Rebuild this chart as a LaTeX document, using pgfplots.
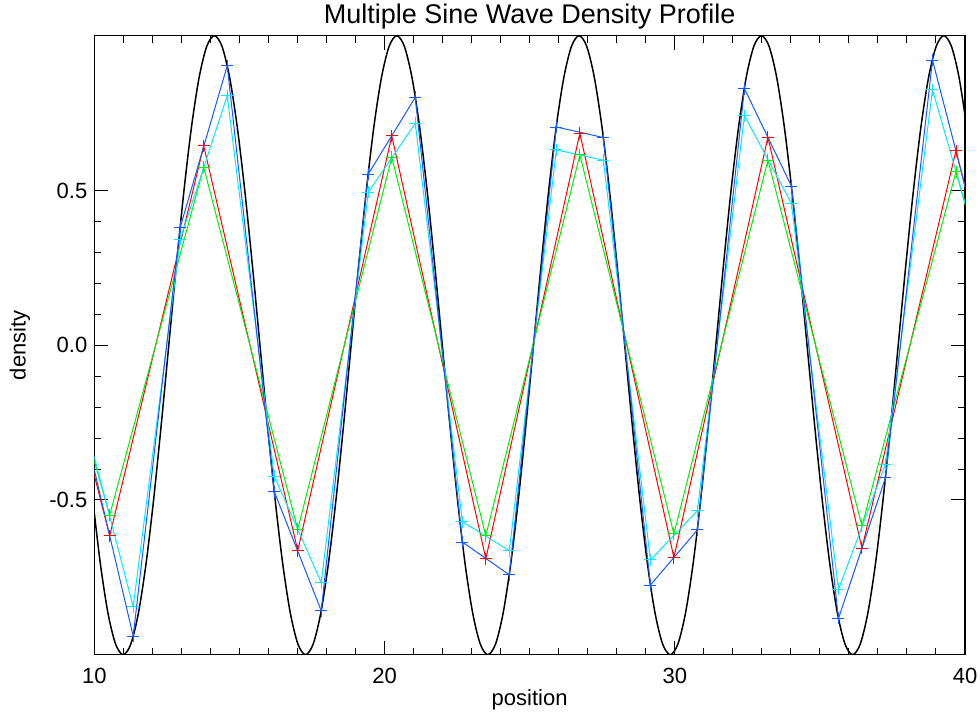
\documentclass[border=0pt]{standalone}
\usepackage{fontspec}
\setmainfont{Liberation Sans}
\usepackage{pgfplots}
\pgfplotsset{compat=1.18}
\definecolor{idlred}{RGB}{255,0,0}
\definecolor{idlgreen}{RGB}{0,240,0}
\definecolor{idlcyan}{RGB}{0,235,255}
\definecolor{idlblue}{RGB}{20,90,255}
\begin{document}
\begin{tikzpicture}
\path[use as bounding box] (0,0) rectangle (490pt,356.5pt);
\begin{axis}[
  at={(47.15pt,29.15pt)}, anchor=south west,
  scale only axis, width=435.35pt, height=309.5pt,
  xmin=10, xmax=40, ymin=-1, ymax=1,
  xtick={10,20,30,40}, ytick={-0.5,0,0.5},
  minor x tick num=9, minor y tick num=4,
  tick align=inside,
  major tick length=7pt, minor tick length=3.5pt,
  axis line style={black, line width=0.6pt},
  tick style={black, line width=0.5pt},
  /pgf/number format/assume math mode=true,
  yticklabel style={/pgf/number format/.cd, fixed, fixed zerofill, precision=1},
  tick label style={font=\fontsize{11}{13}\selectfont},
  xticklabel style={yshift=-3pt},
  title={Multiple Sine Wave Density Profile},
  title style={at={(axis description cs:0.5,1.0108)}, anchor=center, font=\fontsize{13.5}{16}\selectfont},
  xlabel={position}, ylabel={density},
  xlabel style={at={(axis description cs:0.5,-0.0732)}, anchor=center, font=\fontsize{11}{13}\selectfont},
  ylabel style={at={(axis description cs:-0.0853,0.5)}, anchor=center, font=\fontsize{11}{13}\selectfont},
  every axis plot/.append style={line width=0.5pt},
  mark size=3pt,
]
\addplot[black, line width=0.75pt, smooth, no markers] coordinates {
(9.9484,-0.5)(10.2102,-0.7071)(10.4720,-0.8660)(10.7338,-0.9659)(10.9956,-1)(11.2574,-0.9659)(11.5192,-0.8660)(11.7810,-0.7071)(12.0428,-0.5)(12.3046,-0.2588)
(12.5664,0)(12.8282,0.2588)(13.0900,0.5)(13.3518,0.7071)(13.6136,0.8660)(13.8754,0.9659)(14.1372,1)(14.3990,0.9659)(14.6608,0.8660)(14.9226,0.7071)(15.1844,0.5)(15.4462,0.2588)(15.7080,0)(15.9698,-0.2588)(16.2316,-0.5)(16.4934,-0.7071)(16.7552,-0.8660)(17.0170,-0.9659)(17.2788,-1)(17.5406,-0.9659)(17.8024,-0.8660)(18.0642,-0.7071)(18.3260,-0.5)(18.5878,-0.2588)
(18.8496,0)(19.1114,0.2588)(19.3732,0.5)(19.6350,0.7071)(19.8968,0.8660)(20.1586,0.9659)(20.4204,1)(20.6822,0.9659)(20.9440,0.8660)(21.2058,0.7071)(21.4675,0.5)(21.7293,0.2588)(21.9911,0)(22.2529,-0.2588)(22.5147,-0.5)(22.7765,-0.7071)(23.0383,-0.8660)(23.3001,-0.9659)(23.5619,-1)(23.8237,-0.9659)(24.0855,-0.8660)(24.3473,-0.7071)(24.6091,-0.5)(24.8709,-0.2588)
(25.1327,0)(25.3945,0.2588)(25.6563,0.5)(25.9181,0.7071)(26.1799,0.8660)(26.4417,0.9659)(26.7035,1)(26.9653,0.9659)(27.2271,0.8660)(27.4889,0.7071)(27.7507,0.5)(28.0125,0.2588)(28.2743,0)(28.5361,-0.2588)(28.7979,-0.5)(29.0597,-0.7071)(29.3215,-0.8660)(29.5833,-0.9659)(29.8451,-1)(30.1069,-0.9659)(30.3687,-0.8660)(30.6305,-0.7071)(30.8923,-0.5)(31.1541,-0.2588)
(31.4159,0)(31.6777,0.2588)(31.9395,0.5)(32.2013,0.7071)(32.4631,0.8660)(32.7249,0.9659)(32.9867,1)(33.2485,0.9659)(33.5103,0.8660)(33.7721,0.7071)(34.0339,0.5)(34.2957,0.2588)(34.5575,0)(34.8193,-0.2588)(35.0811,-0.5)(35.3429,-0.7071)(35.6047,-0.8660)(35.8665,-0.9659)(36.1283,-1)(36.3901,-0.9659)(36.6519,-0.8660)(36.9137,-0.7071)(37.1755,-0.5)(37.4373,-0.2588)
(37.6991,0)(37.9609,0.2588)(38.2227,0.5)(38.4845,0.7071)(38.7463,0.8660)(39.0081,0.9659)(39.2699,1)(39.5317,0.9659)(39.7935,0.8660)(40.0553,0.7071)
};
\addplot[idlred, mark=+, mark options={solid}] coordinates {
(7.29,0.583)(10.53,-0.616)(13.77,0.644)(17.01,-0.664)(20.25,0.676)(23.49,-0.690)(26.73,0.685)(29.97,-0.686)(33.21,0.672)(36.45,-0.656)(39.69,0.629)(42.93,-0.599)
};
\addplot[idlgreen, mark=+, mark options={solid}] coordinates {
(7.29,0.521)(10.53,-0.549)(13.77,0.575)(17.01,-0.595)(20.25,0.607)(23.49,-0.616)(26.73,0.615)(29.97,-0.610)(33.21,0.598)(36.45,-0.584)(39.69,0.561)(42.93,-0.535)
};
\addplot[idlcyan, mark=+, mark options={solid}] coordinates {
(9.72,-0.26)(11.34,-0.845)(12.96,0.342)(14.58,0.806)(16.20,-0.423)(17.82,-0.767)(19.44,0.494)(21.06,0.717)(22.68,-0.570)(24.30,-0.664)(25.92,0.631)(27.54,0.598)(29.16,-0.694)(30.78,-0.535)(32.40,0.742)(34.02,0.458)(35.64,-0.789)(37.26,-0.384)(38.88,0.825)(40.50,0.298)
};
\addplot[idlblue, mark=+, mark options={solid}] coordinates {
(9.72,-0.291)(11.34,-0.940)(12.96,0.381)(14.58,0.903)(16.20,-0.473)(17.82,-0.858)(19.44,0.553)(21.06,0.801)(22.68,-0.636)(24.30,-0.742)(25.92,0.705)(27.54,0.671)(29.16,-0.775)(30.78,-0.597)(32.40,0.829)(34.02,0.514)(35.64,-0.883)(37.26,-0.428)(38.88,0.921)(40.50,0.334)
};
\end{axis}
\end{tikzpicture}
\end{document}
